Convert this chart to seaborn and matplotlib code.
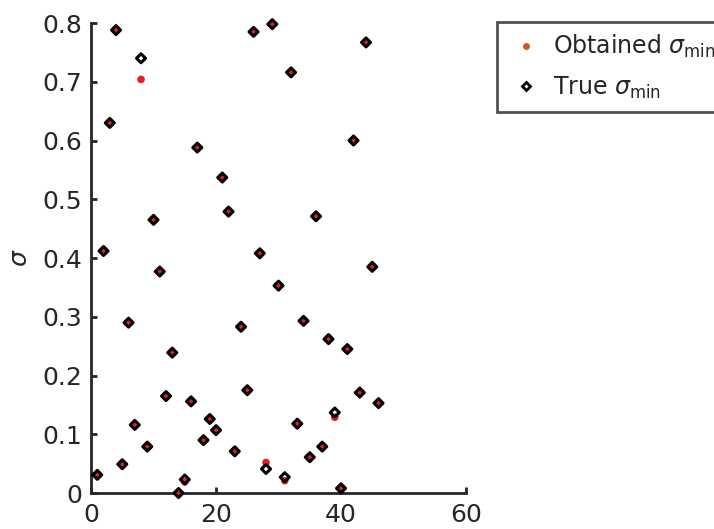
import numpy as np
import matplotlib
matplotlib.use('Agg')
import matplotlib.pyplot as plt
from matplotlib.lines import Line2D
from matplotlib.ticker import FuncFormatter
import seaborn as sns

# dados
idx = list(range(1, 47))
true_sigma = [0.031, 0.412, 0.630, 0.788, 0.049, 0.290, 0.116, 0.740, 0.079, 0.465,
              0.377, 0.165, 0.239, 0.000, 0.023, 0.156, 0.588, 0.090, 0.126, 0.107,
              0.537, 0.479, 0.071, 0.283, 0.175, 0.785, 0.408, 0.041, 0.798, 0.353,
              0.027, 0.716, 0.118, 0.293, 0.061, 0.471, 0.079, 0.262, 0.137, 0.008,
              0.245, 0.600, 0.171, 0.767, 0.385, 0.153]
obtained_sigma = [0.031, 0.412, 0.630, 0.788, 0.049, 0.290, 0.116, 0.704, 0.079, 0.465,
                  0.377, 0.165, 0.239, 0.000, 0.019, 0.156, 0.588, 0.090, 0.126, 0.107,
                  0.537, 0.479, 0.071, 0.283, 0.175, 0.785, 0.408, 0.052, 0.798, 0.353,
                  0.021, 0.716, 0.118, 0.293, 0.061, 0.471, 0.079, 0.262, 0.129, 0.008,
                  0.245, 0.600, 0.171, 0.767, 0.385, 0.153]
x_ticks = [0, 20, 40, 60]
y_ticks = [0, 0.1, 0.2, 0.3, 0.4, 0.5, 0.6, 0.7, 0.8]
labels = ['Obtained $\\sigma_{\\rm min}$', 'True $\\sigma_{\\rm min}$']

sns.set_style('ticks')
plt.rcParams['font.family'] = ['DejaVu Sans']
plt.rcParams['mathtext.fontset'] = 'dejavusans'

dark = '#262626'
fig = plt.figure(figsize=(7.14, 5.29), dpi=100)
ax = fig.add_axes([0.1275, 0.068, 0.5252, 0.8885])

# Pontos vermelhos (valor obtido) por baixo
sns.scatterplot(x=idx, y=obtained_sigma, marker='o', s=30, color='#E81E25',
                edgecolor='none', linewidth=0, ax=ax, zorder=3, clip_on=False)
# Diamantes sem preenchimento (valor verdadeiro) por cima
sns.scatterplot(x=idx, y=true_sigma, marker='D', s=21, color='black',
                facecolor='none', edgecolor='black', linewidth=2.2, ax=ax,
                zorder=4, clip_on=False)

ax.set_xlim(0, 60)
ax.set_ylim(0, 0.8)
ax.set_xticks(x_ticks)
ax.set_yticks(y_ticks)
ax.yaxis.set_major_formatter(FuncFormatter(lambda v, p: f'{v:g}'))
ax.tick_params(direction='in', length=4.5, width=2, colors=dark, labelsize=18, pad=6.5)
ax.tick_params(axis='x', pad=7)
sns.despine(ax=ax)
for s in ['left', 'bottom']:
    ax.spines[s].set_linewidth(2)
    ax.spines[s].set_color(dark)
ax.set_ylabel('$\\sigma$', fontsize=18, color=dark, labelpad=7)

# Legenda fora do eixo (cortada na borda direita como no original)
handles = [
    Line2D([], [], linestyle='none', marker='o', markersize=5, color='#D9541E',
           markeredgecolor='none'),
    Line2D([], [], linestyle='none', marker='D', markersize=4, markerfacecolor='white',
           markeredgecolor='black', markeredgewidth=2),
]
leg = fig.legend(handles, labels, loc='upper left', bbox_to_anchor=(0.696, 0.958),
                 borderaxespad=0, fontsize=17, frameon=True, fancybox=False,
                 borderpad=0.45, handletextpad=0.37, labelspacing=0.62, handlelength=1.55)
leg.get_frame().set_edgecolor(dark)
leg.get_frame().set_linewidth(2)

plt.savefig('out.png', dpi=100)
